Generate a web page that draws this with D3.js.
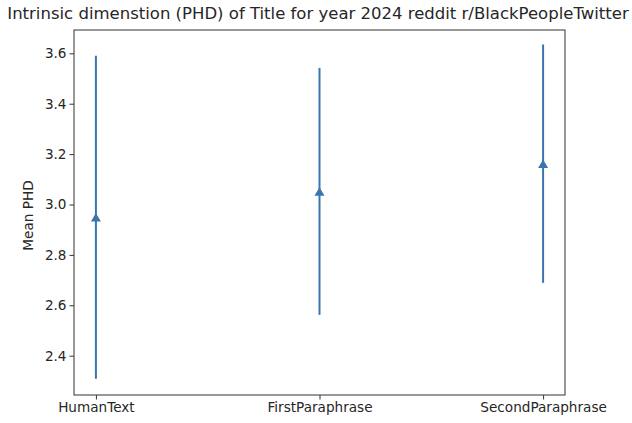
<!DOCTYPE html>
<html>
<head>
<meta charset="utf-8">
<script src="https://cdn.jsdelivr.net/npm/d3@7"></script>
<style>
  html, body { margin: 0; padding: 0; background: #fff; }
  svg { display: block; }
  text { font-family: "DejaVu Sans", sans-serif; fill: #262626; }
</style>
</head>
<body>
<svg id="chart" width="632" height="423"></svg>
<script>
// Mean PHD per text variant, with the error half-widths
const categories = ["HumanText", "FirstParaphrase", "SecondParaphrase"];
const means = [2.949, 3.052, 3.162];
const errors = [0.641, 0.490, 0.473];
const yTicks = [2.4, 2.6, 2.8, 3.0, 3.2, 3.4, 3.6];
const titleText = "Intrinsic dimenstion (PHD) of Title for year 2024 reddit r/BlackPeopleTwitter";
const yLabel = "Mean PHD";

const W = 632, H = 423;
const margin = { left: 74, right: W - 565, top: 30, bottom: H - 395 };
const color = "#3a75b0";

const svg = d3.select("#chart");
const g = svg.append("g").attr("transform", `translate(${margin.left},${margin.top})`);
const iw = W - margin.left - margin.right;
const ih = H - margin.top - margin.bottom;

const x = d3.scaleLinear().domain([-0.098, categories.length - 1 + 0.098]).range([0, iw]);
const y = d3.scaleLinear().domain([2.244, 3.6925]).range([ih, 0]);

// axes
const xAxis = d3.axisBottom(x)
  .tickValues(d3.range(categories.length))
  .tickFormat(i => categories[i])
  .tickSize(4.5).tickPadding(3);
const yAxis = d3.axisLeft(y)
  .tickValues(yTicks)
  .tickFormat(d3.format(".1f"))
  .tickSize(4.5).tickPadding(3);

const gx = g.append("g").attr("transform", `translate(0,${ih})`).call(xAxis);
const gy = g.append("g").call(yAxis);
[gx, gy].forEach(a => {
  a.select(".domain").remove();
  a.selectAll("line").attr("stroke", "#333").attr("stroke-width", 1);
  a.selectAll("text").attr("font-size", 13.6).style("font-family", "'DejaVu Sans', sans-serif").attr("fill", "#262626");
});

// frame
g.append("rect").attr("x", 0).attr("y", 0).attr("width", iw).attr("height", ih)
  .attr("fill", "none").attr("stroke", "#333").attr("stroke-width", 1);

// error bars
const data = categories.map((c, i) => ({ i, mean: means[i], err: errors[i] }));
g.selectAll(".err").data(data).join("line")
  .attr("class", "err")
  .attr("x1", d => x(d.i)).attr("x2", d => x(d.i))
  .attr("y1", d => y(d.mean - d.err)).attr("y2", d => y(d.mean + d.err))
  .attr("stroke", color).attr("stroke-width", 2);

// triangle markers at the means, centred on their bounding box
const triUp = { draw(ctx, size) { const r = Math.sqrt(size) / 2, h = r * 0.85; ctx.moveTo(0, -h); ctx.lineTo(r, h); ctx.lineTo(-r, h); ctx.closePath(); } };
const tri = d3.symbol().type(triUp).size(100);
g.selectAll(".mk").data(data).join("path")
  .attr("class", "mk")
  .attr("transform", d => `translate(${x(d.i)},${y(d.mean)})`)
  .attr("d", tri)
  .attr("fill", color);

// title and y label
svg.append("text").attr("x", 318).attr("y", 19)
  .attr("text-anchor", "middle").attr("font-size", 16.5).text(titleText);
svg.append("text")
  .attr("transform", `translate(33,${margin.top + ih / 2 + 3}) rotate(-90)`)
  .attr("text-anchor", "middle").attr("font-size", 13.6).text(yLabel);
</script>
</body>
</html>
